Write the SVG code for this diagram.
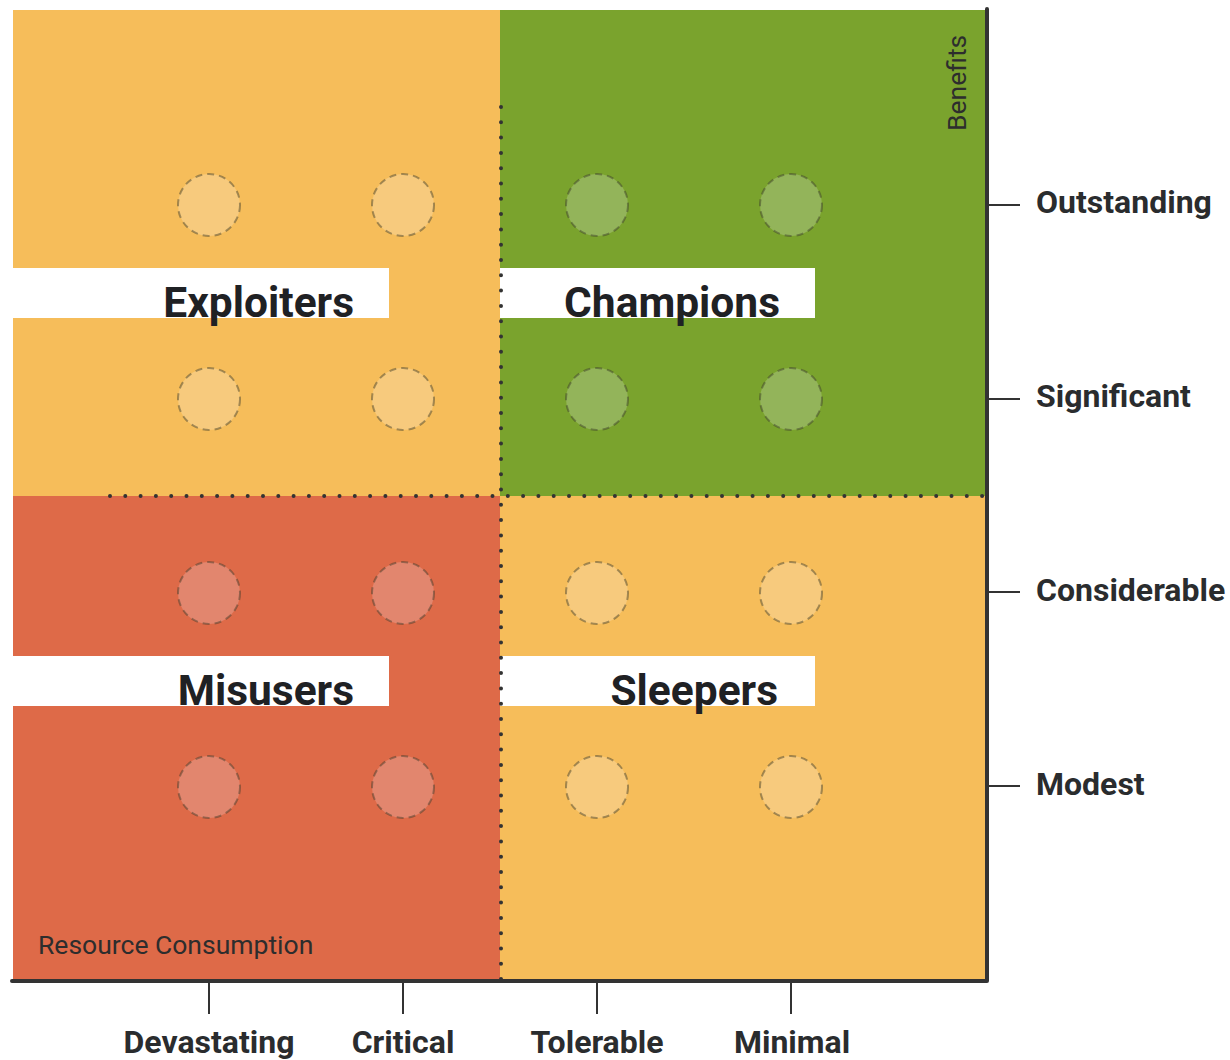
<svg xmlns="http://www.w3.org/2000/svg" width="1230" height="1060" viewBox="0 0 1230 1060">
<style>
.q-or{fill:#F6BD5A}
.q-gr{fill:#7AA32D}
.q-rd{fill:#DE6A48}
.c{stroke:#3a3a2a;stroke-opacity:0.45;stroke-width:2;stroke-dasharray:7 5}
.c-or{fill:#F7CA7D}
.c-gr{fill:#93B45A}
.c-rd{fill:#E2866E}
.band{fill:#ffffff}
.title{font-family:Roboto,"Liberation Sans",sans-serif;font-weight:700;font-size:42.5px;fill:#1f2124;text-anchor:end}
.lab{font-family:Roboto,"Liberation Sans",sans-serif;font-weight:700;font-size:32px;fill:#2a2c2e}
.axt{font-family:Roboto,"Liberation Sans",sans-serif;font-size:26.5px;fill:#2d2d2d}
.dots{fill:none;stroke:#333;stroke-width:4;stroke-linecap:round;stroke-dasharray:0 15.3}
.tick{stroke:#333;stroke-width:2}
.axis{stroke:#333;stroke-width:4;stroke-linecap:round}
</style>
<rect width="1230" height="1060" fill="#ffffff"/>
<g id="exploiters">
<rect class="q-or" x="13" y="10" width="487" height="486"/>
<circle class="c c-or" cx="209" cy="205" r="31"/>
<circle class="c c-or" cx="403" cy="205" r="31"/>
<circle class="c c-or" cx="209" cy="399" r="31"/>
<circle class="c c-or" cx="403" cy="399" r="31"/>
<rect class="band" x="13" y="268" width="376" height="50"/>
<text class="title" x="354" y="317">Exploiters</text>
</g>
<g id="champions">
<rect class="q-gr" x="500" y="10" width="486" height="486"/>
<circle class="c c-gr" cx="597" cy="205" r="31"/>
<circle class="c c-gr" cx="791" cy="205" r="31"/>
<circle class="c c-gr" cx="597" cy="399" r="31"/>
<circle class="c c-gr" cx="791" cy="399" r="31"/>
<rect class="band" x="500" y="268" width="315" height="50"/>
<text class="title" x="780" y="317">Champions</text>
</g>
<g id="misusers">
<rect class="q-rd" x="13" y="496" width="487" height="484"/>
<circle class="c c-rd" cx="209" cy="593" r="31"/>
<circle class="c c-rd" cx="403" cy="593" r="31"/>
<circle class="c c-rd" cx="209" cy="787" r="31"/>
<circle class="c c-rd" cx="403" cy="787" r="31"/>
<rect class="band" x="13" y="656" width="376" height="50"/>
<text class="title" x="354" y="705">Misusers</text>
</g>
<g id="sleepers">
<rect class="q-or" x="500" y="496" width="486" height="484"/>
<circle class="c c-or" cx="597" cy="593" r="31"/>
<circle class="c c-or" cx="791" cy="593" r="31"/>
<circle class="c c-or" cx="597" cy="787" r="31"/>
<circle class="c c-or" cx="791" cy="787" r="31"/>
<rect class="band" x="500" y="656" width="315" height="50"/>
<text class="title" x="778" y="705">Sleepers</text>
</g>
<g id="connectors">
<path class="dots" d="M501 107 V980"/>
<path class="dots" d="M110 496 H986"/>
<path class="axis" d="M987 9 V981 M12 981 H987"/>
<path class="tick" d="M988 205 H1020 M988 399 H1020 M988 592 H1020 M988 786 H1020"/>
<path class="tick" d="M209 982 V1014 M403 982 V1014 M597 982 V1014 M791 982 V1014"/>
</g>
<g id="axis-labels">
<text class="axt" transform="translate(966,131) rotate(-90)">Benefits</text>
<text class="axt" x="38" y="954">Resource Consumption</text>
<text class="lab" x="1036" y="213">Outstanding</text>
<text class="lab" x="1036" y="407">Significant</text>
<text class="lab" x="1036" y="601">Considerable</text>
<text class="lab" x="1036" y="795">Modest</text>
<text class="lab" x="209" y="1053" text-anchor="middle">Devastating</text>
<text class="lab" x="403" y="1053" text-anchor="middle">Critical</text>
<text class="lab" x="597" y="1053" text-anchor="middle">Tolerable</text>
<text class="lab" x="792" y="1053" text-anchor="middle">Minimal</text>
</g>
</svg>
